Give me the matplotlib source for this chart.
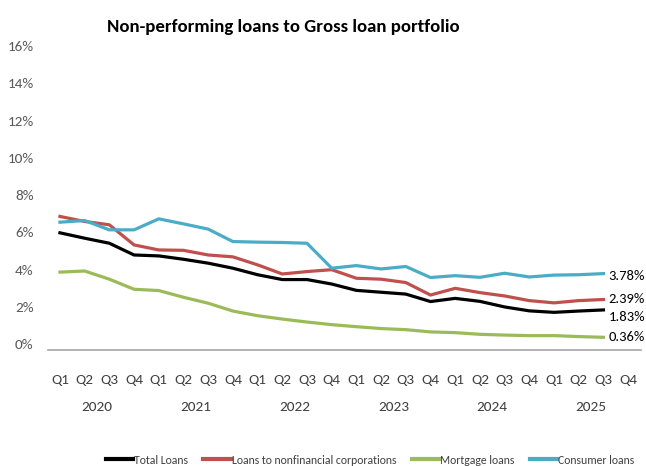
import matplotlib
matplotlib.use("Agg")
import matplotlib.pyplot as plt
import matplotlib.transforms as mtransforms
from matplotlib.lines import Line2D

plt.rcParams["font.family"] = ["Carlito", "DejaVu Sans"]

quarters = ["Q1", "Q2", "Q3", "Q4"] * 6
years = ["2020", "2021", "2022", "2023", "2024", "2025"]

# values in %, Q1 2020 .. Q3 2025
total_loans = [5.97, 5.68, 5.41, 4.78, 4.73, 4.55, 4.34, 4.07, 3.72, 3.46, 3.46, 3.22,
               2.88, 2.78, 2.68, 2.28, 2.45, 2.29, 1.99, 1.78, 1.70, 1.77, 1.83]
corporate_loans = [6.85, 6.58, 6.40, 5.32, 5.05, 5.03, 4.78, 4.68, 4.25, 3.76, 3.89, 3.99,
                   3.53, 3.48, 3.30, 2.63, 2.99, 2.76, 2.58, 2.33, 2.21, 2.33, 2.39]
mortgage_loans = [3.86, 3.92, 3.48, 2.94, 2.87, 2.51, 2.19, 1.77, 1.52, 1.34, 1.18, 1.04,
                  0.93, 0.83, 0.77, 0.65, 0.61, 0.52, 0.48, 0.45, 0.45, 0.40, 0.36]
consumer_loans = [6.54, 6.63, 6.13, 6.13, 6.72, 6.45, 6.17, 5.50, 5.47, 5.45, 5.41, 4.07,
                  4.21, 4.03, 4.16, 3.57, 3.67, 3.58, 3.80, 3.60, 3.70, 3.72, 3.78]

series = [
    ("Total Loans", total_loans, "#000000"),
    ("Loans to nonfinancial corporations", corporate_loans, "#C0504D"),
    ("Mortgage loans", mortgage_loans, "#9BBB59"),
    ("Consumer loans", consumer_loans, "#4BACC6"),
]
# nudge of the end-of-line value labels (points), so they do not collide
label_nudge = {"Total Loans": (0.5, -5), "Loans to nonfinancial corporations": (0, 0),
               "Mortgage loans": (0, 0), "Consumer loans": (0, -1.5)}

W, H = 646, 466
fig = plt.figure(figsize=(W / 100, H / 100), dpi=100)

# axes placed in pixel terms
left, right = 47.6, 640.5
top, bottom = 46, 349.6
ax = fig.add_axes([left / W, (H - bottom) / H, (right - left) / W, (bottom - top) / H])

for name, vals, col in series:
    ax.plot(range(len(vals)), vals, color=col, lw=2.3, solid_joinstyle="round")
    dx, dy = label_nudge[name]
    ax.annotate(f"{vals[-1]:.2f}%", (len(vals) - 1, vals[-1]), xytext=(3.5 + dx, dy),
                textcoords="offset points", va="center", ha="left",
                fontsize=10.5, color="#000000", annotation_clip=False)

ax.set_xlim(-0.5, 23.5)
ax.set_ylim(-0.3, 16)
ax.set_yticks(range(0, 17, 2))
ax.set_yticklabels([f"{v}%" for v in range(0, 17, 2)], fontsize=11, color="#595959")
ax.tick_params(axis="y", length=0, pad=10)
ax.set_xticks([])
for s in ["top", "right", "left"]:
    ax.spines[s].set_visible(False)
ax.spines["bottom"].set_color("#A6A6A6")
ax.spines["bottom"].set_linewidth(1.2)

trans = mtransforms.blended_transform_factory(ax.transData, fig.transFigure)
for i, q in enumerate(quarters):
    ax.text(i, (H - 380) / H, q, transform=trans, ha="center", va="center",
            fontsize=11, color="#404040")
for k, y in enumerate(years):
    ax.text(1.5 + 4 * k, (H - 407) / H, y, transform=trans, ha="center", va="center",
            fontsize=11, color="#404040")

fig.text(283 / W, (H - 27) / H, "Non-performing loans to Gross loan portfolio",
         ha="center", va="center", fontsize=13.5, fontweight="bold")

handles = [Line2D([0], [0], color=c, lw=3) for _, _, c in series]
fig.legend(handles, [n for n, _, _ in series], loc="center", ncol=4,
           bbox_to_anchor=(370 / W, (H - 460) / H), frameon=False, fontsize=8.5,
           handlelength=2.3, handletextpad=0.1, columnspacing=1.3, labelcolor="#404040",
           borderpad=0, borderaxespad=0)

fig.savefig("out.png", dpi=100)
